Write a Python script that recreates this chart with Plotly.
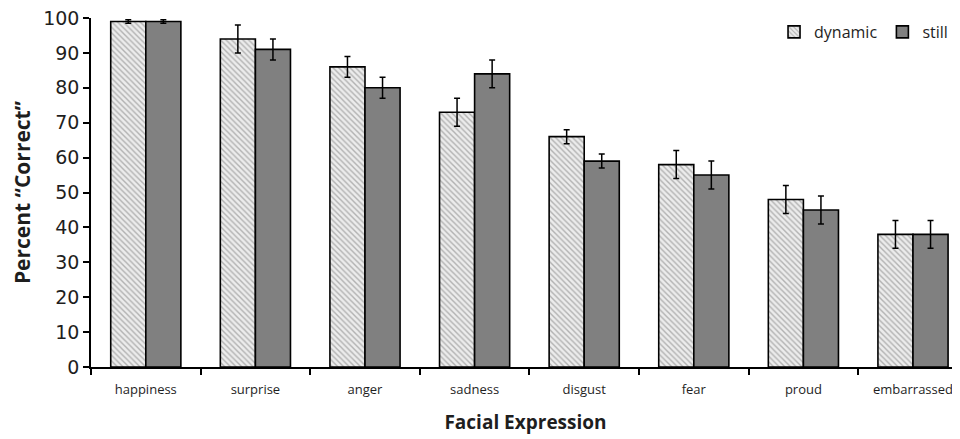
import plotly.graph_objects as go

categories = ["happiness", "surprise", "anger", "sadness", "disgust", "fear", "proud", "embarrassed"]
dynamic_vals = [99, 94, 86, 73, 66, 58, 48, 38]
dynamic_err = [0.5, 4, 3, 4, 2, 4, 4, 4]
still_vals = [99, 91, 80, 84, 59, 55, 45, 38]
still_err = [0.5, 3, 3, 4, 2, 4, 4, 4]
y_ticks = list(range(0, 101, 10))

FONT = "Open Sans"
TXT = "#1e1e1e"

fig = go.Figure()
fig.add_trace(go.Bar(
    name="dynamic", x=categories, y=dynamic_vals,
    marker=dict(color="#ececec", line=dict(color="black", width=1.6),
                pattern=dict(shape="\\", fgcolor="#777777", bgcolor="#ececec", size=4, solidity=0.35)),
    error_y=dict(type="data", array=dynamic_err, color="black", thickness=1.5, width=3),
))
fig.add_trace(go.Bar(
    name="still", x=categories, y=still_vals,
    marker=dict(color="#808080", line=dict(color="black", width=1.6)),
    error_y=dict(type="data", array=still_err, color="black", thickness=1.5, width=3),
))

# page body has an 8px default margin, so the figure is sized to fill the rest
fig.update_layout(
    width=952, height=431,
    margin=dict(l=83, r=0, t=10, b=72),
    paper_bgcolor="white", plot_bgcolor="white",
    barmode="group", bargap=0.36, bargroupgap=0,
    font=dict(family=FONT, color=TXT),
    legend=dict(orientation="h", x=0.786, y=0.96, xanchor="left", yanchor="middle",
                font=dict(size=16, family=FONT, color=TXT), itemwidth=30, traceorder="normal",
                bgcolor="rgba(0,0,0,0)", tracegroupgap=0),
    showlegend=True,
)
fig.update_xaxes(
    range=[-0.5, -0.5 + 869 / 109.6], automargin=False,
    showline=True, linecolor="black", linewidth=1.5,
    ticks="outside", tickson="boundaries", ticklen=6, tickcolor="black", tickwidth=1.5,
    ticklabelstandoff=10, ticklabeloverflow="allow",
    tickfont=dict(size=13, family=FONT, color=TXT),
    title=dict(text="<b>Facial Expression</b>", font=dict(size=19, family=FONT, color=TXT), standoff=18),
    showgrid=False, zeroline=False,
)
fig.update_yaxes(
    range=[0, 100], tickvals=y_ticks, automargin=False,
    showline=True, linecolor="black", linewidth=1.5,
    ticks="outside", ticklen=6, tickcolor="black", tickwidth=1.5,
    ticklabeloverflow="allow",
    tickfont=dict(size=19, family="DejaVu Sans", color=TXT),
    title=dict(text="<b>Percent “Correct”</b>", font=dict(size=21, family=FONT, color=TXT), standoff=10),
    showgrid=False, zeroline=False,
)

fig.write_html("out.html")
